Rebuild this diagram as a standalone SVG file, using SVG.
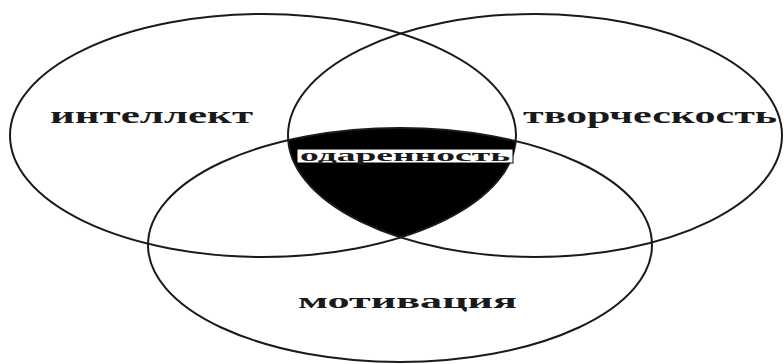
<svg xmlns="http://www.w3.org/2000/svg" width="784" height="364" viewBox="0 0 784 364">
  <style>
    .ring { fill: none; stroke: #1a1a1a; stroke-width: 2; }
    .lbl { font-family: "Liberation Serif", "Times New Roman", serif; font-weight: bold; fill: #1a1a1a; }
  </style>
  <defs>
    <clipPath id="clipRight">
      <ellipse cx="535" cy="135.5" rx="247" ry="121.5"/>
    </clipPath>
    <clipPath id="clipBottom">
      <ellipse cx="400" cy="245" rx="252" ry="117"/>
    </clipPath>
  </defs>
  <rect width="784" height="364" fill="#ffffff"/>

  <g id="giftedness-region">
    <g clip-path="url(#clipRight)">
      <ellipse cx="263" cy="135.5" rx="253" ry="121.5" fill="#000000" clip-path="url(#clipBottom)"/>
    </g>
  </g>

  <g id="node-intellect">
    <ellipse class="ring" cx="263" cy="135.5" rx="253" ry="121.5"/>
    <text class="lbl" x="50" y="123" font-size="24" textLength="203" lengthAdjust="spacingAndGlyphs">интеллект</text>
  </g>

  <g id="node-creativity">
    <ellipse class="ring" cx="535" cy="135.5" rx="247" ry="121.5"/>
    <text class="lbl" x="523" y="123" font-size="24" textLength="254" lengthAdjust="spacingAndGlyphs">творческость</text>
  </g>

  <g id="node-motivation">
    <ellipse class="ring" cx="400" cy="245" rx="252" ry="117"/>
    <text class="lbl" x="298" y="308" font-size="22" textLength="219" lengthAdjust="spacingAndGlyphs">мотивация</text>
  </g>

  <g id="node-giftedness">
    <rect x="297" y="149" width="216" height="14" fill="#ffffff" stroke="#000000" stroke-width="1"/>
    <text class="lbl" x="300" y="160.5" font-size="16" textLength="210" lengthAdjust="spacingAndGlyphs">одаренность</text>
  </g>
</svg>
